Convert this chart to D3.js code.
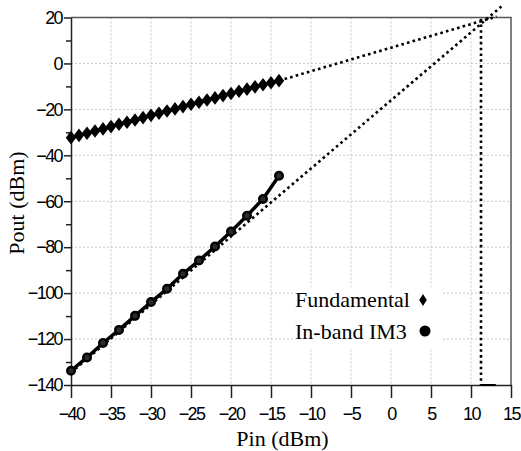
<!DOCTYPE html>
<html lang="en">
<head>
<meta charset="UTF-8">
<title>Pout vs Pin</title>
<script src="https://cdn.jsdelivr.net/npm/d3@7"></script>
<style>
  body { margin: 0; background: #fff; }
  .tick text { font-family: "Liberation Sans", Arial, sans-serif; font-size: 18px; letter-spacing: -1.6px; fill: #000; }
</style>
</head>
<body>
<div id="output"></div>
<script>

var w = 521;
var h = 451;

// fundamental tone, every 1 dBm
var fundPin = [-40,-39,-38,-37,-36,-35,-34,-33,-32,-31,-30,-29,-28,-27,-26,-25,-24,-23,-22,-21,-20,-19,-18,-17,-16,-15,-14];
var fundPout = [-32.3,-31.3,-30.4,-29.4,-28.5,-27.5,-26.5,-25.6,-24.6,-23.6,-22.6,-21.7,-20.7,-19.8,-18.8,-17.8,-16.9,-15.9,-15.0,-14.0,-13.1,-12.1,-11.2,-10.2,-9.3,-8.4,-7.5];

// in-band IM3, every 2 dBm
var im3Pin = [-40,-38,-36,-34,-32,-30,-28,-26,-24,-22,-20,-18,-16,-14];
var im3Pout = [-133.8,-128,-121.7,-116,-109.9,-103.9,-98.1,-91.6,-85.8,-79.7,-73.2,-66.3,-59,-48.9];

// extrapolated lines and intercept
var fundExtPin = [-14, 13.2];
var fundExtPout = [-7.5, 20.4];
var im3ExtPin = [-40, 13.8];
var im3ExtPout = [-134.6, 24.8];
var iip3 = 11.25;
var oip3 = 19.5;

var xTicks = [-40,-35,-30,-25,-20,-15,-10,-5,0,5,10,15];
var yTicks = [-140,-120,-100,-80,-60,-40,-20,0,20];
var yMinor = [-130,-110,-90,-70,-50,-30,-10,10];

var legendNames = ["Fundamental", "In-band IM3"];

var serif = "'Liberation Serif', 'Times New Roman', 'DejaVu Serif', serif";

var x = d3.scaleLinear().domain([-40, 15]).range([71, 511]);
var y = d3.scaleLinear().domain([-140, 20]).range([385, 17.5]);

var svg = d3.select("#output")
    .append("svg")
    .attr("width", w)
    .attr("height", h);

// grid
svg.append("g").selectAll("line")
    .data(xTicks.slice(1, -1))
    .enter().append("line")
    .attr("x1", function (d) { return x(d); })
    .attr("x2", function (d) { return x(d); })
    .attr("y1", y(20)).attr("y2", y(-140))
    .attr("stroke", "#c8c8c8").attr("stroke-dasharray", "2,2");

svg.append("g").selectAll("line")
    .data(yTicks.slice(1, -1))
    .enter().append("line")
    .attr("y1", function (d) { return y(d); })
    .attr("y2", function (d) { return y(d); })
    .attr("x1", x(-40)).attr("x2", x(15))
    .attr("stroke", "#c8c8c8").attr("stroke-dasharray", "2,2");

// frame top/right
svg.append("path")
    .attr("d", "M" + x(-40) + "," + y(20) + "H" + x(15) + "V" + y(-140))
    .attr("fill", "none").attr("stroke", "#555").attr("stroke-width", 1.5);

// axes
svg.append("g")
    .attr("transform", "translate(0," + y(-140) + ")")
    .call(d3.axisBottom(x).tickValues(xTicks).tickSize(13).tickPadding(9).tickSizeOuter(0));

svg.append("g")
    .attr("transform", "translate(" + x(-40) + ",0)")
    .call(d3.axisLeft(y).tickValues(yTicks).tickSize(7).tickPadding(2).tickSizeOuter(0));

svg.append("g")
    .attr("transform", "translate(" + x(-40) + ",0)")
    .call(d3.axisLeft(y).tickValues(yMinor).tickSize(5).tickFormat("").tickSizeOuter(0))
    .select(".domain").remove();

svg.selectAll(".domain, .tick line").attr("stroke", "#222").attr("stroke-width", 1.5);

// legend background hides grid
svg.append("rect")
    .attr("x", 293).attr("y", 287).attr("width", 149).attr("height", 62)
    .attr("fill", "#fff");

var line = d3.line()
    .x(function (d) { return x(d[0]); })
    .y(function (d) { return y(d[1]); });

var dotted = function (sel) {
    sel.attr("fill", "none").attr("stroke", "#000")
        .attr("stroke-width", 2.6).attr("stroke-dasharray", "2.6,3.2");
};

svg.append("path").datum(d3.zip(fundExtPin, fundExtPout)).attr("d", line).call(dotted);
svg.append("path").datum(d3.zip(im3ExtPin, im3ExtPout)).attr("d", line).call(dotted);
svg.append("path").datum([[iip3, oip3], [iip3, -140]]).attr("d", line).call(dotted);
svg.append("path").datum([[iip3, -140], [13.1, -140]]).attr("d", line)
    .attr("stroke", "#000").attr("stroke-width", 2);

// fundamental
var fund = d3.zip(fundPin, fundPout);
svg.append("path").datum(fund).attr("d", line)
    .attr("fill", "none").attr("stroke", "#000").attr("stroke-width", 3);

var diamond = "M0,-6.8L5.2,0L0,6.8L-5.2,0Z";
svg.append("g").selectAll("path")
    .data(fund)
    .enter().append("path")
    .attr("d", diamond)
    .attr("transform", function (d) { return "translate(" + x(d[0]) + "," + y(d[1]) + ")"; })
    .attr("fill", "#000");

// IM3
var im3 = d3.zip(im3Pin, im3Pout);
svg.append("path").datum(im3).attr("d", line)
    .attr("fill", "none").attr("stroke", "#000").attr("stroke-width", 3.5);

svg.append("g").selectAll("circle")
    .data(im3)
    .enter().append("circle")
    .attr("cx", function (d) { return x(d[0]); })
    .attr("cy", function (d) { return y(d[1]); })
    .attr("r", 3.8)
    .attr("fill", "#2a2a2a").attr("stroke", "#000").attr("stroke-width", 2.4);

// legend
function label(sel) {
    sel.style("font-family", serif).style("font-size", "22px").attr("fill", "#000");
}
svg.append("text").call(label)
    .attr("x", 295).attr("y", 307).text(legendNames[0]);
svg.append("text").call(label)
    .attr("x", 295).attr("y", 339).text(legendNames[1]);
svg.append("path").attr("d", "M0,-6L3.8,0L0,6L-3.8,0Z")
    .attr("transform", "translate(423,300)").attr("fill", "#000");
svg.append("circle").attr("cx", 425).attr("cy", 331).attr("r", 5.5).attr("fill", "#000");

// axis titles
svg.append("text").call(label)
    .attr("x", 282.5).attr("y", 446)
    .attr("text-anchor", "middle").text("Pin (dBm)");
svg.append("text").call(label)
    .attr("transform", "translate(24,203) rotate(-90)")
    .attr("text-anchor", "middle").text("Pout (dBm)");

</script>
</body>
</html>
